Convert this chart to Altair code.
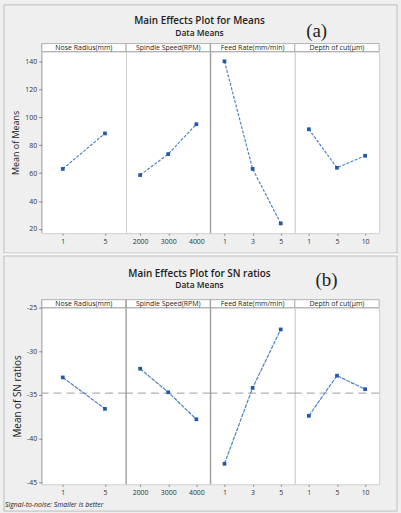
import altair as alt
import pandas as pd

# ---------------- data ----------------
factors = ["Nose Radius(mm)", "Spindle Speed(RPM)", "Feed Rate(mm/min)", "Depth of cut(µm)"]
levels = [["1", "5"], ["2000", "3000", "4000"], ["1", "3", "5"], ["1", "5", "10"]]
means_values = [[63.0, 88.4], [58.6, 73.6, 95.0], [140.0, 63.0, 24.0], [91.4, 63.8, 72.4]]
sn_values = [[-33.0, -36.6], [-32.0, -34.7, -37.8], [-42.9, -34.2, -27.5], [-37.4, -32.8, -34.35]]
sn_overall_mean = -34.8
means_ticks = [20, 40, 60, 80, 100, 120, 140]
sn_ticks = [-45, -40, -35, -30, -25]

title_a = "Main Effects Plot for Means"
title_b = "Main Effects Plot for SN ratios"
subtitle = "Data Means"
tag_a, tag_b = "(a)", "(b)"
ytitle_a = "Mean of Means"
ytitle_b = "Mean of SN ratios"
footnote = "Signal-to-noise: Smaller is better"

# ---------------- style ----------------
FONT = "Open Sans"
PW = 85
HA, HB = 183, 178
LINE = "#4d82c3"
PT = "#1f5aa6"
one = pd.DataFrame({"k": [0]})


def txt(text, x, y, size, weight="normal", align="center", font=FONT, style="normal", color="#222"):
    return alt.Chart(one).mark_text(
        text=text, fontSize=size, fontWeight=weight, align=align, baseline="alphabetic",
        font=font, fontStyle=style, color=color
    ).encode(x=alt.value(x), y=alt.value(y))


def box(x1, x2, y1, y2, fill=None, stroke="#bdbdbd"):
    kw = dict(stroke=stroke, strokeWidth=1)
    if fill is None:
        kw["fillOpacity"] = 0
        kw["fill"] = "white"
    else:
        kw["fill"] = fill
    return alt.Chart(one).mark_rect(**kw).encode(
        x=alt.value(x1), x2=alt.value(x2), y=alt.value(y1), y2=alt.value(y2))


def divider(height, color="#a0a0a0", width=1.3):
    return alt.Chart(one).mark_rule(color=color, strokeWidth=width).encode(
        x=alt.value(0), y=alt.value(-8), y2=alt.value(height))


def panel(i, vals, domain, ticks, ytitle, ytsize, height, dash, extra=(), mean=None, div=False):
    df = pd.DataFrame({"level": levels[i], "value": vals[i]})
    base = alt.Chart(df)
    xenc = alt.X("level:N", sort=levels[i],
                 scale=alt.Scale(type="point", padding=0.5),
                 axis=alt.Axis(title=None, labelAngle=0, labelFontSize=7, labelColor="#333",
                               labelFont=FONT, tickSize=2, tickColor="#888", labelPadding=2,
                               domain=False, grid=False))
    if i == 0:
        yaxis = alt.Axis(values=ticks, title=ytitle, titleFontSize=ytsize, titleFont=FONT,
                         titleFontWeight="normal", titleColor="#222", labelFontSize=7,
                         labelColor="#333", labelFont=FONT, tickSize=3, tickColor="#888",
                         domain=False, grid=False, labelExpr="'' + datum.value",
                         titlePadding=4, zindex=1)
    else:
        yaxis = None
    yscale = alt.Scale(domain=domain, nice=False, zero=False)
    yenc = alt.Y("value:Q", scale=yscale, axis=yaxis)
    layers = list(extra)
    layers.append(box(0, PW, -8, 0, fill="white", stroke="#b0b0b0"))
    layers.append(txt(factors[i], PW / 2, -2, 7))
    if i == 0:
        layers.append(divider(height, color="#b4b4b4", width=1))
    if div:
        layers.append(divider(height))
    if mean is not None:
        layers.append(alt.Chart(one).mark_rule(color="#9c9c9c", strokeWidth=1, strokeDash=[8, 5])
                      .encode(y=alt.YDatum(mean, scale=yscale, axis=yaxis)))
    line = base.mark_line(color=LINE, strokeWidth=1.2, strokeDash=dash).encode(x=xenc, y=yenc)
    pts = base.mark_point(shape="square", filled=True, size=14, color=PT, opacity=1).encode(x=xenc, y=yenc)
    return alt.layer(*layers, line, pts).properties(width=PW, height=height)


extra_a0 = [
    box(-38, 358, -47, 203),
    txt(title_a, 159, -28, 10, weight=600),
    txt(subtitle, 159, -16, 8.5, weight=600),
    txt(tag_a, 277, -15, 19, font="Liberation Serif"),
]
extra_b0 = [
    alt.Chart(one).mark_rule(color="#fafafa", strokeWidth=2).encode(
        x=alt.value(-38), x2=alt.value(358), y=alt.value(-53.5)),
    box(-38, 358, -52, 205),
    txt(title_b, 159, -31, 10, weight=600),
    txt(subtitle, 159, -19.5, 8.5, weight=600),
    txt(tag_b, 287, -22, 19, font="Liberation Serif"),
    txt(footnote, -37, 201, 7, align="left", style="italic"),
]

pa = [panel(i, means_values, [17, 147], means_ticks, ytitle_a, 9, HA, [3, 1.5],
            extra=extra_a0 if i == 0 else (), div=(i == 2)) for i in range(4)]
pb = [panel(i, sn_values, [-45.25, -25], sn_ticks, ytitle_b, 10, HB, [4, 1],
            extra=extra_b0 if i == 0 else (), mean=sn_overall_mean, div=(i in (1, 2)))
      for i in range(4)]

chart = alt.concat(*pa, *pb, columns=4, spacing={"row": 75, "column": 0}, bounds="flush").properties(
    padding={"left": 2, "top": 2, "right": 2, "bottom": 0},
    background="#efefef",
).configure_view(fill="white", stroke="#cfcfcf", strokeWidth=1)

chart.save("out.html", embed_options={"renderer": "svg", "actions": False})
